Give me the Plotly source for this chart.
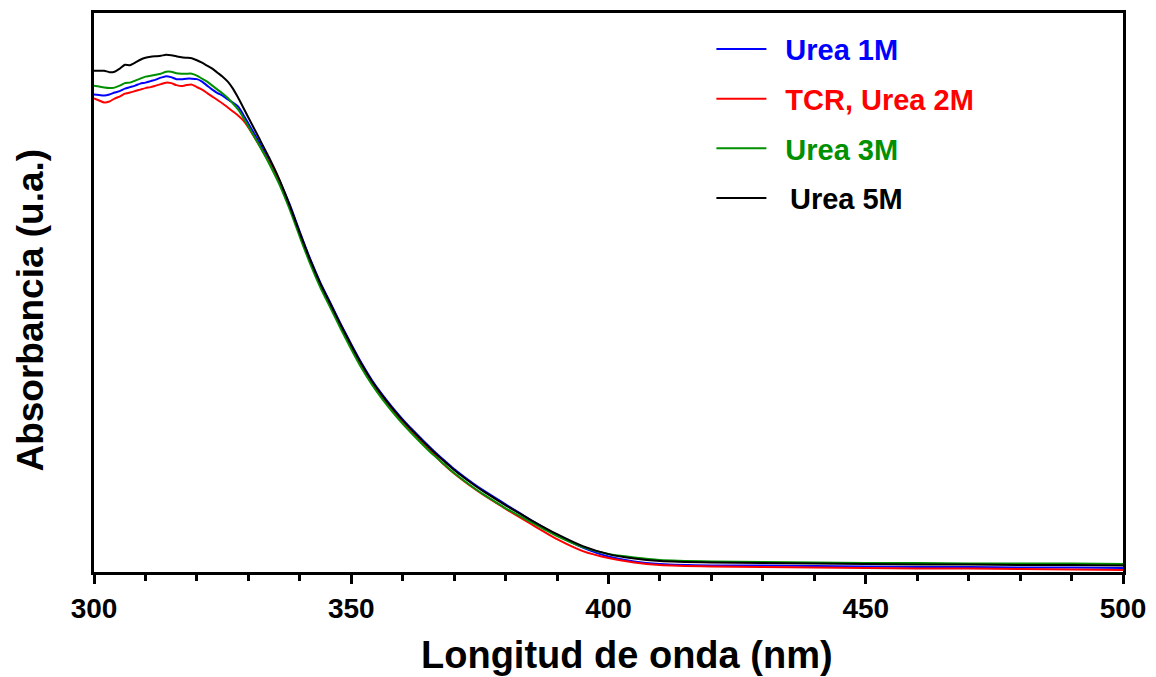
import plotly.graph_objects as go

# Wavelength grid (nm)
wavelength = [
    300, 301, 302, 303, 304, 305, 306, 307, 308, 309,
    310, 311, 312, 313, 314, 315, 316, 317, 318, 319,
    320, 321, 322, 323, 324, 325, 326, 327, 328, 329,
    330, 332, 334, 336, 338, 340, 342, 344, 346, 348,
    350, 352, 354, 356, 358, 360, 362, 364, 366, 368,
    370, 372, 374, 376, 378, 380, 385, 390, 395, 400,
    405, 410, 420, 430, 440, 450, 460, 470, 480, 490,
    500,
]

# Absorbance spectra (arbitrary units)
urea_1m = [
    0.960, 0.959, 0.958, 0.960, 0.964, 0.967, 0.972, 0.975, 0.978, 0.982,
    0.984, 0.987, 0.990, 0.994, 0.997, 0.995, 0.991, 0.991, 0.992, 0.992,
    0.991, 0.986, 0.978, 0.970, 0.963, 0.958, 0.950, 0.944, 0.936, 0.920,
    0.902, 0.866, 0.828, 0.788, 0.740, 0.684, 0.630, 0.582, 0.540, 0.498,
    0.458, 0.420, 0.386, 0.357, 0.331, 0.307, 0.285, 0.264, 0.244, 0.225,
    0.207, 0.191, 0.176, 0.162, 0.149, 0.136, 0.104, 0.074, 0.049, 0.031,
    0.021, 0.016, 0.013, 0.013, 0.012, 0.011, 0.010, 0.010, 0.009, 0.009,
    0.008,
]
tcr_urea_2m = [
    0.952, 0.948, 0.944, 0.946, 0.952, 0.956, 0.962, 0.964, 0.967, 0.970,
    0.973, 0.975, 0.978, 0.981, 0.984, 0.983, 0.979, 0.977, 0.979, 0.980,
    0.975, 0.970, 0.963, 0.956, 0.949, 0.942, 0.934, 0.926, 0.918, 0.908,
    0.894, 0.860, 0.824, 0.784, 0.734, 0.678, 0.624, 0.576, 0.534, 0.492,
    0.452, 0.414, 0.379, 0.350, 0.324, 0.300, 0.278, 0.257, 0.237, 0.216,
    0.198, 0.182, 0.167, 0.153, 0.140, 0.127, 0.096, 0.066, 0.042, 0.028,
    0.019, 0.014, 0.011, 0.010, 0.009, 0.008, 0.007, 0.007, 0.006, 0.005,
    0.004,
]
urea_3m = [
    0.978, 0.976, 0.974, 0.973, 0.974, 0.978, 0.983, 0.984, 0.988, 0.992,
    0.996, 0.998, 1.000, 1.002, 1.006, 1.006, 1.003, 1.002, 1.002, 1.002,
    0.998, 0.992, 0.986, 0.978, 0.970, 0.962, 0.953, 0.942, 0.930, 0.914,
    0.896, 0.860, 0.822, 0.780, 0.730, 0.674, 0.620, 0.572, 0.530, 0.488,
    0.448, 0.410, 0.377, 0.348, 0.322, 0.298, 0.276, 0.255, 0.235, 0.217,
    0.199, 0.183, 0.168, 0.154, 0.141, 0.128, 0.100, 0.072, 0.050, 0.036,
    0.029, 0.024, 0.021, 0.020, 0.019, 0.018, 0.018, 0.017, 0.017, 0.017,
    0.016,
]
urea_5m = [
    1.008, 1.008, 1.008, 1.005, 1.006, 1.012, 1.020, 1.019, 1.024, 1.030,
    1.034, 1.036, 1.037, 1.038, 1.040, 1.039, 1.037, 1.035, 1.034, 1.033,
    1.029, 1.024, 1.018, 1.012, 1.004, 0.996, 0.986, 0.972, 0.954, 0.934,
    0.914, 0.874, 0.834, 0.790, 0.738, 0.682, 0.628, 0.580, 0.538, 0.496,
    0.456, 0.418, 0.384, 0.355, 0.329, 0.305, 0.283, 0.262, 0.242, 0.223,
    0.205, 0.189, 0.174, 0.160, 0.147, 0.134, 0.104, 0.076, 0.052, 0.036,
    0.027, 0.022, 0.019, 0.018, 0.017, 0.016, 0.015, 0.015, 0.014, 0.014,
    0.013,
]

series_names = ["Urea 1M", "TCR, Urea 2M", "Urea 3M", "Urea 5M"]
series_values = [urea_1m, tcr_urea_2m, urea_3m, urea_5m]
series_colors = ["#0000ff", "#ff0000", "#009000", "#000000"]
# leading gap between legend line and label
label_pads = ["&nbsp;&#8201;", "&nbsp;&#8201;", "&nbsp;&#8201;", "&nbsp;&nbsp;&#8202;"]

x_ticks = [300, 350, 400, 450, 500]

FONT = "Liberation Sans, Arial, sans-serif"

fig = go.Figure()
for i, (name, vals, col, pad) in enumerate(zip(series_names, series_values, series_colors, label_pads)):
    fig.add_trace(go.Scatter(
        x=wavelength, y=vals, mode="lines",
        name=f'{pad}<span style="color:{col}">{name}</span>',
        legendgroup=f"g{i}",
        line=dict(color=col, width=2, shape="spline", smoothing=0.5),
    ))

fig.update_layout(
    width=1156, height=677,
    margin=dict(l=94, r=30, t=10, b=105),
    paper_bgcolor="white", plot_bgcolor="white",
    font=dict(family=FONT, color="black"),
    showlegend=True,
    legend=dict(
        x=0.600, y=0.981, xanchor="left", yanchor="top",
        bgcolor="rgba(0,0,0,0)", borderwidth=0,
        font=dict(family=FONT, size=29, weight="bold"),
        tracegroupgap=9, itemwidth=50,
    ),
)

fig.update_xaxes(
    range=[300, 500],
    tickvals=x_ticks, ticktext=[str(v) for v in x_ticks],
    ticks="outside", ticklen=9, tickwidth=3, tickcolor="black",
    minor=dict(dtick=10, tick0=300, ticks="outside", ticklen=6, tickwidth=3, tickcolor="black"),
    showline=True, linewidth=3, linecolor="black", mirror=True,
    showgrid=False, zeroline=False,
    tickfont=dict(family=FONT, size=28, weight="bold", color="black"),
)
fig.update_yaxes(
    range=[0, 1.124],
    showticklabels=False, ticks="",
    showline=True, linewidth=3, linecolor="black", mirror=True,
    showgrid=False, zeroline=False,
)

# Axis titles
fig.add_annotation(
    text="Longitud de onda (nm)", xref="paper", yref="paper",
    x=0.5175, y=-0.148, xanchor="center", yanchor="middle", showarrow=False,
    font=dict(family=FONT, size=38, weight="bold", color="black"),
)
fig.add_annotation(
    text="Absorbancia (u.a.)", xref="paper", yref="paper",
    x=-0.062, y=0.468, xanchor="center", yanchor="middle", showarrow=False,
    textangle=-90,
    font=dict(family=FONT, size=37, weight="bold", color="black"),
)

fig.write_html("out.html")
